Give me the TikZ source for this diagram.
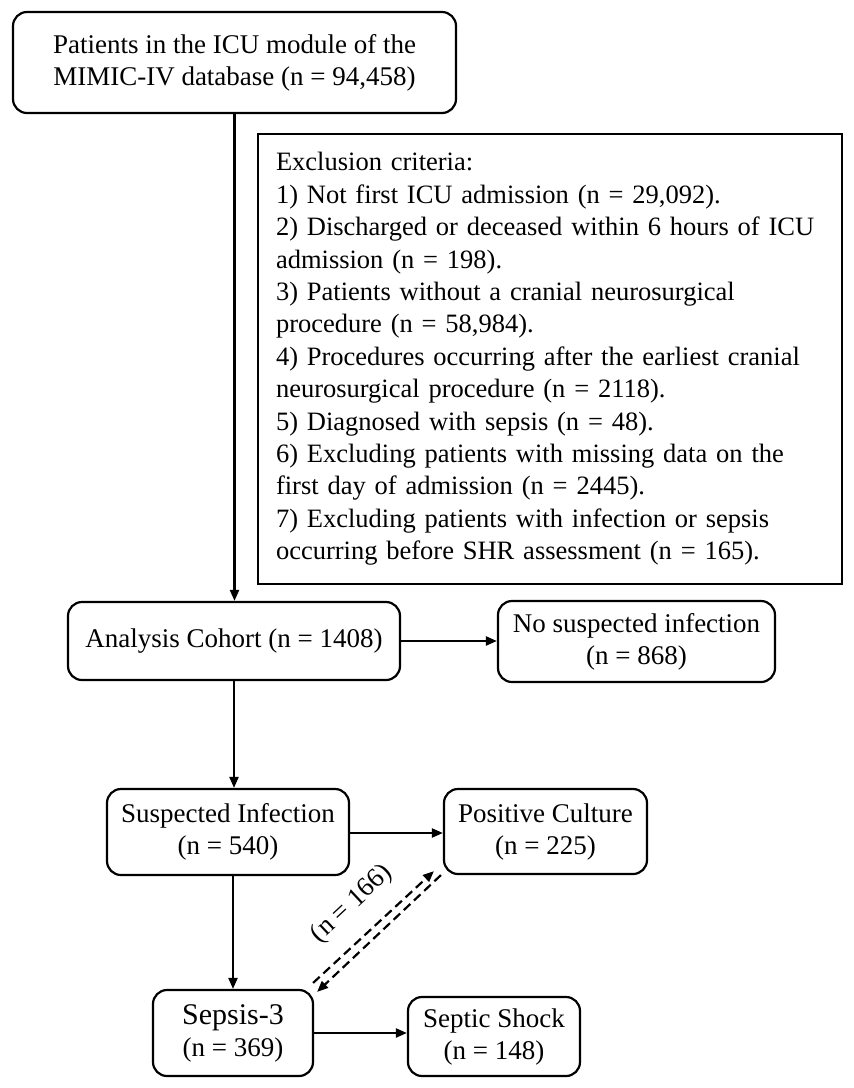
\documentclass[tikz,border=0pt]{standalone}
\usepackage{fontspec}
\setmainfont{Liberation Serif}
\usetikzlibrary{arrows.meta}
\tikzset{blk/.style={draw, line width=2.2pt, rounded corners=14pt, inner sep=0pt, align=center, font=\fontsize{27}{32}\selectfont}}
\tikzset{exbox/.style={draw, line width=2.2pt, inner sep=0pt, align=left, text width=548pt, font=\fontsize{26.5}{32.4}\selectfont}}
\tikzset{edge/.style={line width=2.2pt, -{Triangle[length=11pt,width=9pt]}}}
\tikzset{dashedge/.style={edge, dash pattern=on 9pt off 5pt}}

\begin{document}
\begin{tikzpicture}[x=1pt,y=-1pt]
  \useasboundingbox (0,0) rectangle (854,1088);

  \node[blk, minimum width=443, minimum height=101] (src) at (234.5,62.5)
    {Patients in the ICU module of the\\MIMIC-IV database (n = 94,458)};
  \node[exbox, minimum width=584, minimum height=450] (excl) at (550,359)
    {Exclusion criteria:\\
     1) Not first ICU admission (n = 29,092).\\
     2) Discharged or deceased within 6 hours of ICU\\
     admission (n = 198).\\
     3) Patients without a cranial neurosurgical\\
     procedure (n = 58,984).\\
     4) Procedures occurring after the earliest cranial\\
     neurosurgical procedure (n = 2118).\\
     5) Diagnosed with sepsis (n = 48).\\
     6) Excluding patients with missing data on the\\
     first day of admission (n = 2445).\\
     7) Excluding patients with infection or sepsis\\
     occurring before SHR assessment (n = 165).};

  \node[blk, minimum width=332, minimum height=78] (cohort) at (234,641) {Analysis Cohort (n = 1408)};
  \node[blk, minimum width=277, minimum height=81] (nosusp) at (636.5,641.5) {No suspected infection\\(n = 868)};
  \node[blk, minimum width=242, minimum height=86] (infect) at (228,832) {Suspected Infection\\(n = 540)};
  \node[blk, minimum width=203, minimum height=85] (culture) at (545.5,831.5) {Positive Culture\\(n = 225)};
  \node[blk, minimum width=160, minimum height=86] (sepsis) at (233,1033) {{\fontsize{30}{34}\selectfont Sepsis-3}\\(n = 369)};
  \node[blk, minimum width=172, minimum height=79] (shock) at (494,1036.5) {Septic Shock\\(n = 148)};

  \draw[edge] (src.south) -- (src.south |- cohort.north);
  \draw[edge] (cohort.south) -- (cohort.south |- infect.north);
  \draw[edge] (infect.south -| sepsis.north) -- (sepsis.north);
  \draw[edge] (cohort.east) -- (cohort.east -| nosusp.west);
  \draw[edge] ([yshift=-1pt]infect.east) -- ([yshift=-1pt]infect.east -| culture.west);
  \draw[edge] (sepsis.east) -- (sepsis.east -| shock.west);

  % two-way link, one dashed arrow each way
  \draw[dashedge] ([xshift=-1pt,yshift=6pt]sepsis.north east) -- ([xshift=-9pt,yshift=4pt]culture.south west);
  \draw[dashedge] ([xshift=-2pt,yshift=0pt]culture.south west) -- ([xshift=3pt,yshift=-3pt]sepsis.north east);
  \node[font=\fontsize{27}{32}\selectfont, rotate=43] (lbl) at (352,904) {(n = 166)};
\end{tikzpicture}
\end{document}
